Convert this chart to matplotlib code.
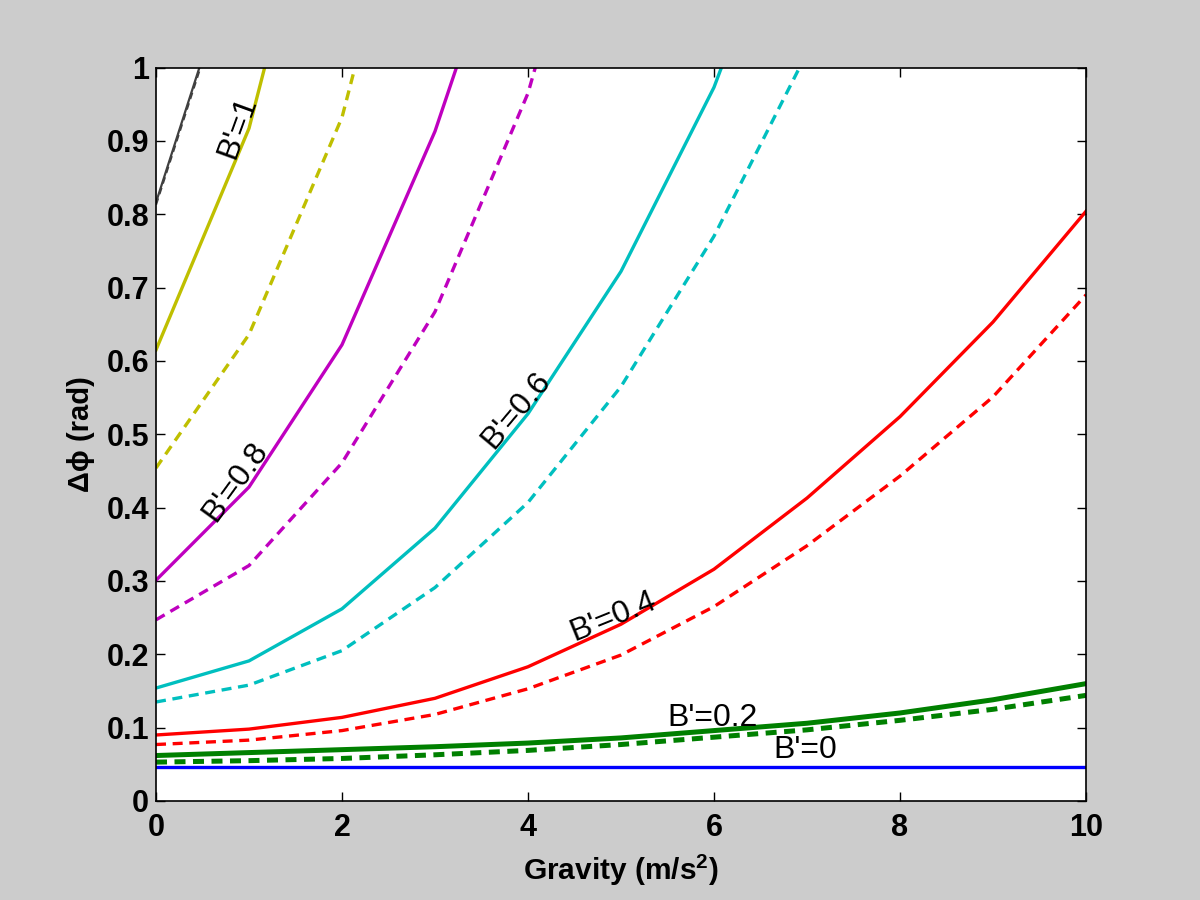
import matplotlib
matplotlib.use("Agg")
import matplotlib.pyplot as plt
import numpy as np

plt.rcParams['font.family'] = ['Liberation Sans', 'DejaVu Sans']
plt.rcParams['mathtext.fontset'] = 'custom'
plt.rcParams['mathtext.rm'] = 'Liberation Sans:bold'
plt.rcParams['mathtext.default'] = 'regular'

gravity = [0, 1, 2, 3, 4, 5, 6, 7, 8, 9, 10]

b0_solid = [0.046] * 11
b02_solid = [0.062, 0.066, 0.070, 0.074, 0.079, 0.086, 0.096, 0.106, 0.120, 0.138, 0.160]
b02_dash = [0.053, 0.055, 0.058, 0.063, 0.069, 0.077, 0.087, 0.097, 0.110, 0.125, 0.144]
b04_solid = [0.090, 0.098, 0.114, 0.140, 0.183, 0.241, 0.316, 0.413, 0.524, 0.653, 0.804]
b04_dash = [0.077, 0.083, 0.096, 0.118, 0.153, 0.199, 0.265, 0.348, 0.443, 0.551, 0.690]
b06_solid = [0.154, 0.191, 0.262, 0.372, 0.528, 0.722, 0.973, 1.31]
b06_dash = [0.135, 0.158, 0.205, 0.291, 0.407, 0.565, 0.770, 1.02, 1.35]
b08_solid = [0.301, 0.428, 0.622, 0.913, 1.29]
b08_dash = [0.247, 0.321, 0.461, 0.667, 0.965, 1.41]
b1_solid = [0.615, 0.917, 1.41]
b1_dash = [0.454, 0.636, 0.932, 1.42]
b12_solid = [0.816, 1.21]
b12_dash = [0.813, 1.205]

labels = ["B'=0", "B'=0.2", "B'=0.4", "B'=0.6", "B'=0.8", "B'=1"]
label_x = [6.98, 5.98, 4.92, 3.87, 0.85, 0.88]
label_y = [0.0696, 0.113, 0.252, 0.533, 0.435, 0.918]
label_rot = [0, 0, 22, 50, 54, 70]

xticks = [0, 2, 4, 6, 8, 10]
yticks = [0, 0.1, 0.2, 0.3, 0.4, 0.5, 0.6, 0.7, 0.8, 0.9, 1]
ytick_labels = ["0", "0.1", "0.2", "0.3", "0.4", "0.5", "0.6", "0.7", "0.8", "0.9", "1"]

fig = plt.figure(figsize=(12, 9), dpi=100, facecolor='#cccccc')
ax = fig.add_axes([0.13, 0.11, 0.775, 0.815])
ax.set_facecolor('white')

lw = 2.4
dash = (3, 2)
def g(n):
    return gravity[:n]

ax.plot(g(len(b12_solid)), b12_solid, color='#404040', lw=1.6)
ax.plot(g(len(b12_dash)), b12_dash, color='#404040', lw=1.6, dashes=dash)
ax.plot(g(len(b1_solid)), b1_solid, color=(0.75, 0.75, 0), lw=lw)
ax.plot(g(len(b1_dash)), b1_dash, color=(0.75, 0.75, 0), lw=lw, dashes=dash)
ax.plot(g(len(b08_solid)), b08_solid, color=(0.75, 0, 0.75), lw=lw)
ax.plot(g(len(b08_dash)), b08_dash, color=(0.75, 0, 0.75), lw=lw, dashes=dash)
ax.plot(g(len(b06_solid)), b06_solid, color=(0, 0.75, 0.75), lw=lw)
ax.plot(g(len(b06_dash)), b06_dash, color=(0, 0.75, 0.75), lw=lw, dashes=dash)
ax.plot(gravity, b04_solid, color='red', lw=lw)
ax.plot(gravity, b04_dash, color='red', lw=lw, dashes=dash)
ax.plot(gravity, b02_solid, color=(0, 0.5, 0), lw=3.6)
ax.plot(gravity, b02_dash, color=(0, 0.5, 0), lw=3.6, dashes=(2.2, 1.5))
ax.plot(gravity, b0_solid, color='blue', lw=lw)

for t, x, y, r in zip(labels, label_x, label_y, label_rot):
    ax.text(x, y, t, fontsize=23, rotation=r, rotation_mode='anchor',
            ha='center', va='center', color='black')

ax.set_xlim(0, 10)
ax.set_ylim(0, 1)
ax.set_xticks(xticks)
ax.set_xticklabels([str(v) for v in xticks])
ax.set_yticks(yticks)
ax.set_yticklabels(ytick_labels)
ax.tick_params(direction='in', length=6.5, width=1, top=True, right=True,
               labelsize=22, pad=5)
ax.tick_params(axis='x', pad=8.5)
for lab in ax.get_xticklabels() + ax.get_yticklabels():
    lab.set_fontweight('bold')
for s in ax.spines.values():
    s.set_linewidth(1.2)

ax.set_xlabel(r'Gravity (m/s$^{2}$)', fontsize=21.5, fontweight='bold', labelpad=7)
ax.set_ylabel('Δϕ (rad)', fontsize=21, fontweight='bold', labelpad=8)

fig.savefig('out.png', dpi=100, facecolor=fig.get_facecolor())
